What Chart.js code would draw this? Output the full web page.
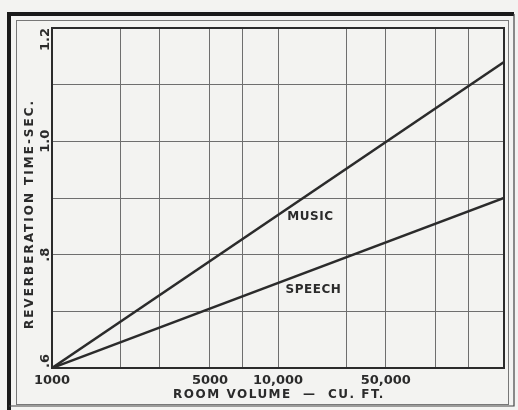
<!DOCTYPE html>
<html>
<head>
<meta charset="utf-8">
<script src="https://cdn.jsdelivr.net/npm/chart.js@4.4.1/dist/chart.umd.min.js"></script>
<style>
  html, body { margin: 0; padding: 0; background: #f3f3f1; }
  #wrap { width: 518px; height: 410px; }
</style>
</head>
<body>
<div id="wrap"><canvas id="c" width="518" height="410"></canvas></div>
<script>
// Room volume (cu. ft.) at the ends of each straight line on the log axis
const volumes = [1000, 100000];
// Recommended reverberation time (sec.)
const musicTimes = [0.6, 1.14];
const speechTimes = [0.6, 0.9];

// Vertical grid lines of the log paper
const gridVolumes = [1000, 2000, 3000, 5000, 7000, 10000, 20000, 30000, 50000, 70000, 100000];
// Labelled volume ticks and their printed text
const xLabelValues = [1000, 5000, 10000, 30000];
const xLabelTexts = ['1000', '5000', '10,000', '50,000'];
// Labelled time ticks and their printed text
const yLabelValues = [0.6, 0.8, 1.0, 1.2];
const yLabelTexts = ['.6', '.8', '1.0', '1.2'];

const INK = '#2b2b2b';
const FONT = '"DejaVu Sans", sans-serif';

const decorations = {
  id: 'decorations',
  beforeDraw(chart) {
    const ctx = chart.ctx;
    ctx.save();
    ctx.fillStyle = '#f3f3f1';
    ctx.fillRect(0, 0, chart.width, chart.height);
    ctx.restore();
  },
  afterDraw(chart) {
    const ctx = chart.ctx;
    const xs = chart.scales.x, ys = chart.scales.y;
    const a = chart.chartArea;
    ctx.save();

    // plot border
    ctx.strokeStyle = INK;
    ctx.lineWidth = 2;
    ctx.strokeRect(a.left, a.top, a.right - a.left, a.bottom - a.top);

    // outer frame: heavy left/top rule, thin inner rule
    ctx.strokeStyle = '#1a1a1a';
    ctx.lineWidth = 4;
    ctx.beginPath();
    ctx.moveTo(9, 410); ctx.lineTo(9, 14); ctx.lineTo(514, 14);
    ctx.stroke();
    ctx.lineWidth = 1.2;
    ctx.strokeStyle = '#444';
    ctx.beginPath();
    ctx.moveTo(514, 14); ctx.lineTo(514, 406); ctx.lineTo(9, 406);
    ctx.stroke();
    ctx.strokeStyle = '#777';
    ctx.lineWidth = 1;
    ctx.strokeRect(16.5, 20.5, 492, 384);

    // y tick labels, rotated
    ctx.fillStyle = INK;
    ctx.font = 'bold 13px ' + FONT;
    ctx.textBaseline = 'middle';
    yLabelValues.forEach((v, i) => {
      const py = ys.getPixelForValue(v);
      ctx.save();
      ctx.translate(46, py);
      ctx.rotate(-Math.PI / 2);
      ctx.textAlign = i === 0 ? 'left' : (i === yLabelValues.length - 1 ? 'right' : 'center');
      ctx.fillText(yLabelTexts[i], 0, 0);
      ctx.restore();
    });

    // axis titles
    ctx.save();
    ctx.translate(30, 214);
    ctx.rotate(-Math.PI / 2);
    ctx.textAlign = 'center';
    ctx.letterSpacing = '2px';
    ctx.font = 'bold 12px ' + FONT;
    ctx.fillText('REVERBERATION TIME-SEC.', 0, 0);
    ctx.restore();

    ctx.save();
    ctx.textAlign = 'center';
    ctx.textBaseline = 'middle';
    ctx.letterSpacing = '1.5px';
    ctx.font = 'bold 12px ' + FONT;
    ctx.fillText('ROOM VOLUME  \u2014  CU. FT.', 279, 395);
    ctx.restore();

    // curve labels
    ctx.font = 'bold 12px ' + FONT;
    ctx.textAlign = 'left';
    ctx.textBaseline = 'middle';
    ctx.letterSpacing = '0.5px';
    ctx.fillText('MUSIC', xs.getPixelForValue(11000), ys.getPixelForValue(0.866));
    ctx.fillText('SPEECH', xs.getPixelForValue(10800), ys.getPixelForValue(0.738));
    ctx.restore();
  }
};

new Chart(document.getElementById('c'), {
  type: 'line',
  data: {
    datasets: [
      { label: 'Music', data: volumes.map((v, i) => ({ x: v, y: musicTimes[i] })),
        borderColor: INK, borderWidth: 2.5, pointRadius: 0, tension: 0 },
      { label: 'Speech', data: volumes.map((v, i) => ({ x: v, y: speechTimes[i] })),
        borderColor: INK, borderWidth: 2.5, pointRadius: 0, tension: 0 }
    ]
  },
  options: {
    responsive: false,
    animation: false,
    layout: { padding: { top: 28, right: 14, left: 0, bottom: 0 } },
    plugins: { legend: { display: false }, tooltip: { enabled: false } },
    scales: {
      x: {
        type: 'logarithmic',
        min: 1000, max: 100000,
        afterBuildTicks: s => { s.ticks = gridVolumes.map(v => ({ value: v })); },
        afterFit: s => { s.height = 42; },
        grid: { color: '#6e6e6e', lineWidth: 1, drawTicks: false },
        border: { display: false },
        ticks: {
          autoSkip: false, maxRotation: 0, minRotation: 0, padding: 5,
          color: INK, font: { family: FONT, size: 13, weight: 'bold' },
          callback: v => { const i = xLabelValues.indexOf(v); return i >= 0 ? xLabelTexts[i] : ''; }
        }
      },
      y: {
        min: 0.6, max: 1.2,
        afterFit: s => { s.width = 52; },
        grid: { color: '#6e6e6e', lineWidth: 1, drawTicks: false },
        border: { display: false },
        ticks: { stepSize: 0.1, display: false }
      }
    }
  },
  plugins: [decorations]
});
</script>
</body>
</html>
